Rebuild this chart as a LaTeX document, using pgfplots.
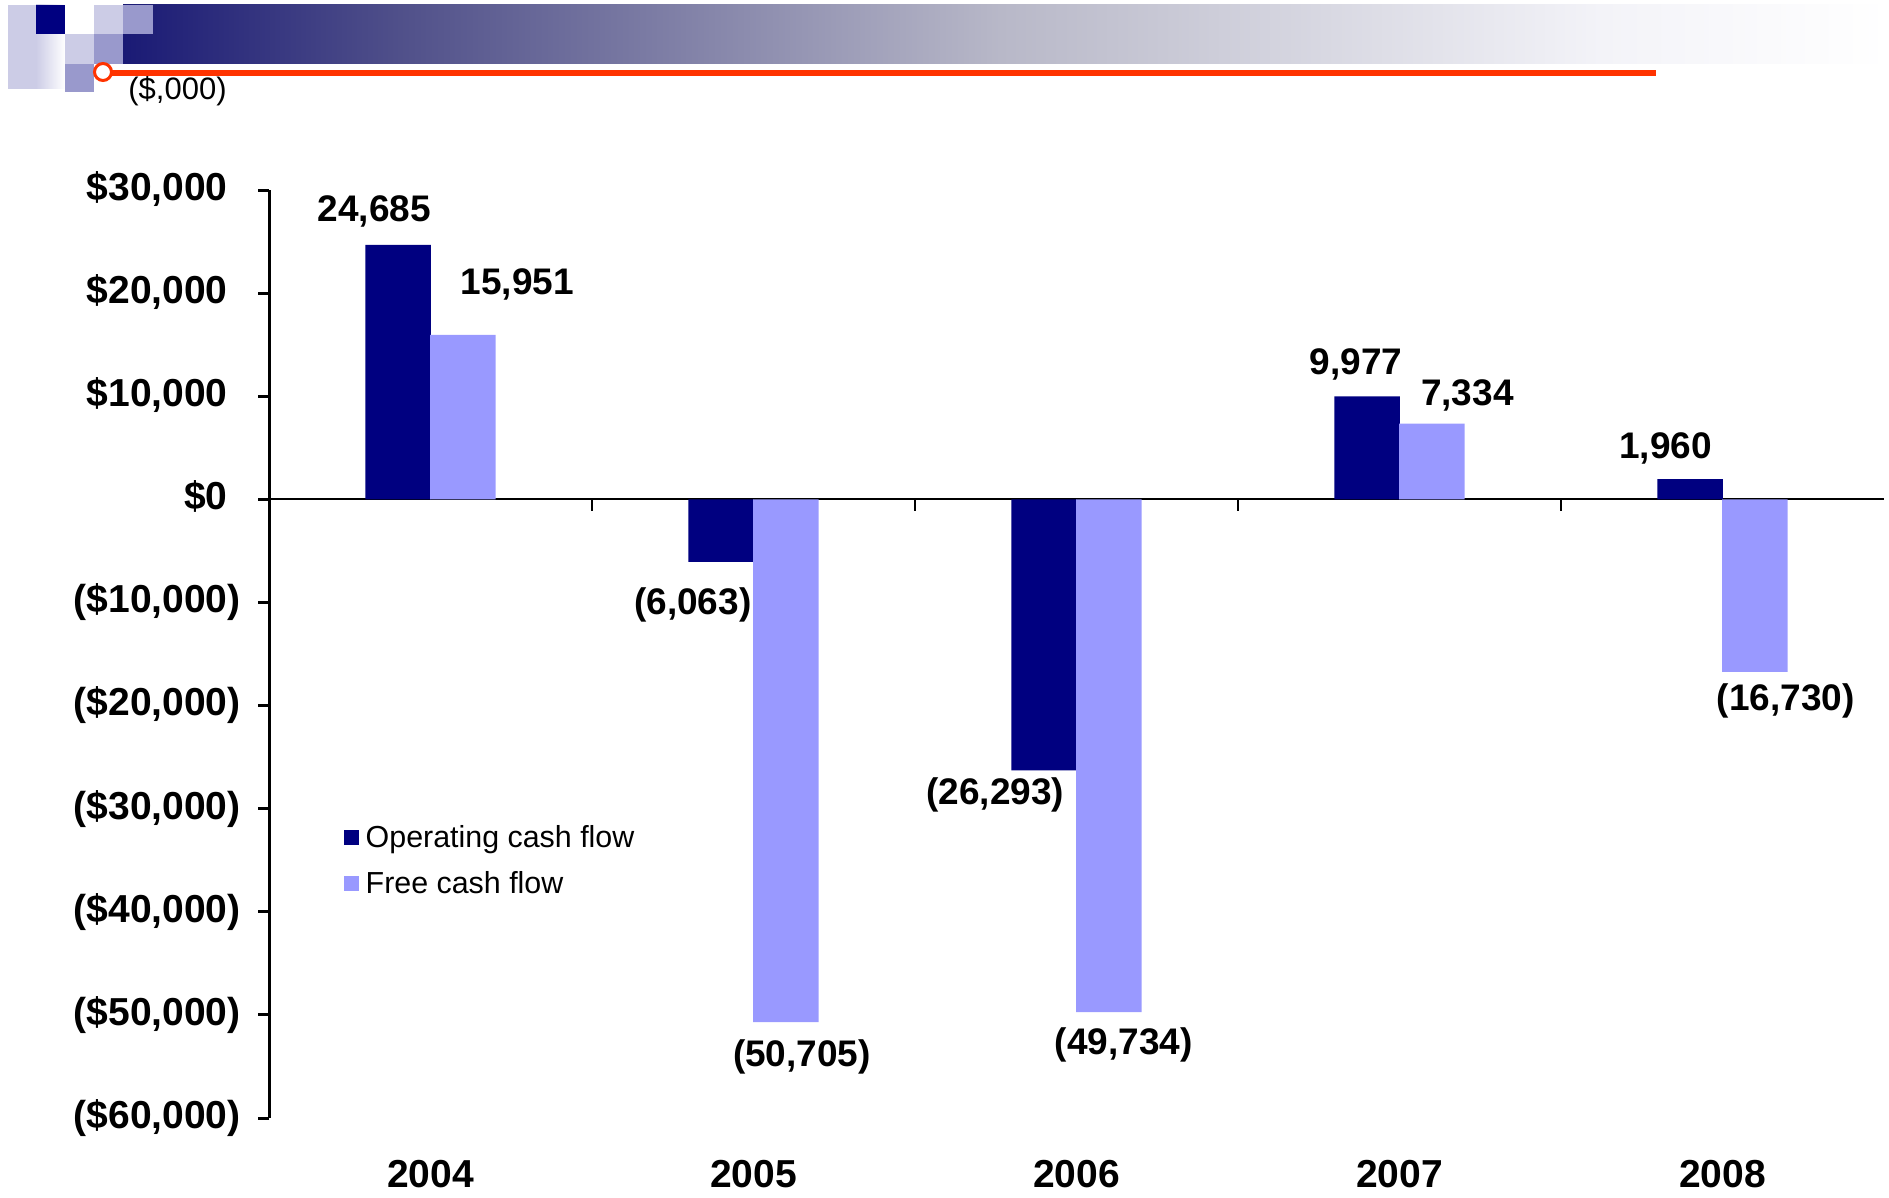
\documentclass[border=0pt]{standalone}
\usepackage{pgfplots}
\pgfplotsset{compat=1.18}
\usepackage{fontspec}
\setmainfont{Liberation Sans}
\definecolor{navyb}{HTML}{000080}
\definecolor{lightb}{HTML}{9999FF}
\definecolor{redl}{HTML}{FF3300}
\definecolor{lav}{HTML}{CCCCE6}
\definecolor{medl}{HTML}{9999CC}
\definecolor{barl}{HTML}{1A1A75}
\definecolor{g1}{HTML}{50508A}
\definecolor{g2}{HTML}{B8B8C8}
\definecolor{g3}{HTML}{F3F3F8}
\begin{document}
\begin{tikzpicture}
\useasboundingbox (0,0) rectangle (944.5pt,-599pt);
\begin{scope}[x=0.5pt,y=-0.5pt]
  % header decoration
  \fill[lav] (8,5) rectangle (36,89);
  \shade[left color=lav,right color=white] (36,5) rectangle (65,89);
  \fill[navyb] (36,5) rectangle (65,34);
  \fill[lav] (94,5) rectangle (123,34);
  \shade[left color=barl,right color=g1] (123,5) rectangle (400.5,64);
  \shade[left color=g1,right color=g2] (400,5) rectangle (1000.5,64);
  \shade[left color=g2,right color=g3] (1000,5) rectangle (1600.5,64);
  \shade[left color=g3,right color=white] (1600,5) rectangle (1889,64);
  \fill[medl] (123,5) rectangle (153,34);
  \fill[lav] (65,34) rectangle (94,64);
  \fill[medl] (94,34) rectangle (123,64);
  \fill[medl] (65,64) rectangle (94,92);
  \draw[redl,line width=3pt] (103,73) -- (1656,73);
  \draw[redl,fill=white,line width=1.5pt] (103,72) circle (8.5);
  \node[anchor=west,inner sep=0pt,font=\fontsize{15.5pt}{18pt}\selectfont] at (128,91.5) {(\$,000)};
\end{scope}
\begin{axis}[
  at={(134.5pt,-559pt)}, anchor=south west,
  scale only axis, width=807.5pt, height=464pt,
  xmin=-0.5, xmax=4.5, ymin=-60000, ymax=30000,
  clip=false,
  scaled y ticks=false,
  axis y line=left, axis x line=bottom,
  x axis line style={draw=none},
  y axis line style={-, line width=1.5pt},
  tick align=outside,
  major tick length=5.5pt,
  ytick={-60000,-50000,...,30000},
  yticklabels={{(\$60,000)},{(\$50,000)},{(\$40,000)},{(\$30,000)},{(\$20,000)},{(\$10,000)},{\$0\phantom{)}},{\$10,000\phantom{)}},{\$20,000\phantom{)}},{\$30,000\phantom{)}}},
  ytick style={line width=1.5pt, black},
  yticklabel style={font=\fontsize{19.5pt}{23pt}\selectfont\bfseries, anchor=east, inner sep=0pt, xshift=-8.5pt},
  xtick={0,1,2,3,4},
  xticklabels={2004,2005,2006,2007,2008},
  xtick style={draw=none},
  xticklabel style={font=\fontsize{19.5pt}{23pt}\selectfont\bfseries, anchor=north, inner sep=0pt, yshift=-15.5pt},
  legend style={at={(0.046,0.320)}, anchor=north west, draw=none, fill=none,
    font=\fontsize{15.2pt}{18pt}\selectfont, row sep=6.4pt, inner sep=0pt,
    /tikz/every odd column/.append style={column sep=1.5pt}},
  legend cell align=left,
  sqleg/.style={legend image code/.code={\fill[##1,/tikz/.cd,draw=none] (0pt,-3.75pt) rectangle (7.5pt,3.75pt);}},
]
\draw[line width=1pt] (axis cs:-0.5,0) -- (axis cs:4.5,0);
\pgfplotsinvokeforeach{0.5,1.5,2.5,3.5}{\draw[line width=1pt] (axis cs:#1,0) -- ++(0pt,-6pt);}
\addplot[ybar, bar width=0.203, bar shift=-0.1, fill=navyb, draw=none, sqleg]
  coordinates {(0,24685) (1,-6063) (2,-26293) (3,9977) (4,1960)};
\addplot[ybar, bar width=0.203, bar shift=0.1, fill=lightb, draw=none, sqleg]
  coordinates {(0,15951) (1,-50705) (2,-49734) (3,7334) (4,-16730)};
\legend{Operating cash flow, Free cash flow}
\begin{scope}[every node/.style={font=\fontsize{18.5pt}{22pt}\selectfont\bfseries, inner sep=0pt}]
\node at (axis cs:-0.174,27960) {24,685};
\node at (axis cs:0.269,20880) {15,951};
\node at (axis cs:0.812,-10250) {(6,063)};
\node at (axis cs:1.150,-54090) {(50,705)};
\node at (axis cs:1.749,-28680) {(26,293)};
\node at (axis cs:2.146,-52920) {(49,734)};
\node at (axis cs:2.865,13120) {9,977};
\node at (axis cs:3.210,10115) {7,334};
\node at (axis cs:3.824,4975) {1,960};
\node at (axis cs:4.196,-19560) {(16,730)};
\end{scope}
\end{axis}
\end{tikzpicture}
\end{document}
